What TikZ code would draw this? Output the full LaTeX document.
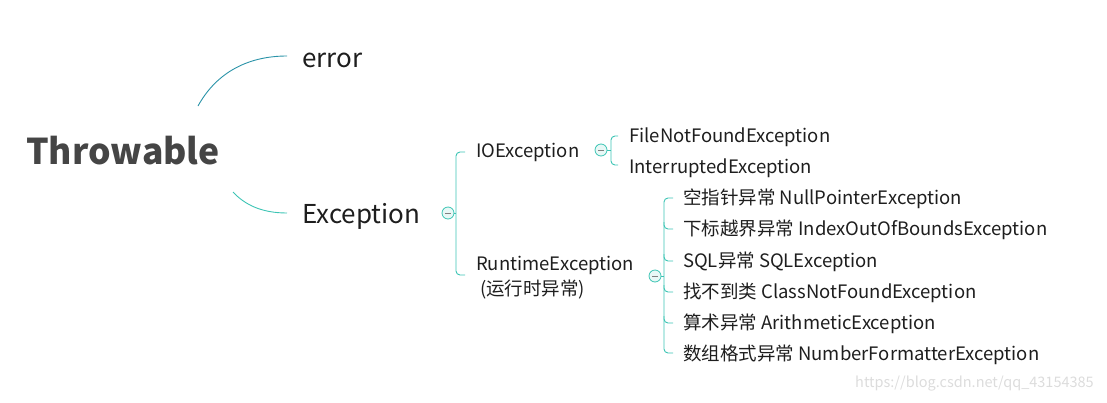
\documentclass[tikz,border=0pt]{standalone}
\usepackage{fontspec}
\setmainfont{Noto Sans CJK SC}
\definecolor{tealA}{HTML}{2A93A8}
\definecolor{tealB}{HTML}{3CC4B4}
\definecolor{txt}{HTML}{1E1E1E}
\definecolor{big}{HTML}{454545}
\definecolor{wm}{HTML}{DCDCDC}
\begin{document}
\begin{tikzpicture}[x=1pt,y=-1pt,
  lbl/.style={anchor=west,inner sep=0,text=txt,font=\fontsize{18.5}{25}\selectfont},
  mid/.style={anchor=west,inner sep=0,text=txt,font=\fontsize{26}{30}\selectfont},
  collapse/.style={circle,draw=tealB,fill=tealB!12,minimum size=12pt,inner sep=0,line width=0.8pt,
    path picture={\draw[gray,line width=0.8pt] ([xshift=-3pt]path picture bounding box.center) -- ([xshift=3pt]path picture bounding box.center);}},
  br/.style={draw=tealB,line width=0.9pt,rounded corners=4pt},
]
\useasboundingbox (0,0) rectangle (1107,402);

% root
\node[anchor=west,inner sep=0,text=big,font=\fontsize{35.5}{40}\selectfont\bfseries] (root) at (26,151) {Throwable};

% level 1
\node[mid] (err) at (302,60) {error};
\node[mid] (exc) at (302,216) {Exception};
\coordinate (errS) at (198,106);
\coordinate (errE) at (287,56);
\coordinate (excS) at (233,192);
\coordinate (excE) at (287,213);
\draw[tealA,line width=0.9pt] (errS) .. controls (215,75) and (245,56) .. (errE);
\draw[tealB,line width=0.9pt] (excS) .. controls (245,205) and (262,213) .. (excE);

% Exception bracket
\node[collapse] (excC) at (448,213) {};
\node[lbl] (io) at (476,152) {IOException};
\node[lbl,align=left] (rt) at (476,278) {RuntimeException\\\hspace*{4pt}(运行时异常)};
\coordinate (b1t) at (456,152);
\coordinate (b1b) at (456,275);
\draw[br] (excC.east) -- (456,213);
\draw[br] (465,152) -- (b1t) -- (b1b) -- (465,275);

% IOException children
\node[collapse] (ioC) at (601,150) {};
\node[lbl] (fnf) at (629,137) {FileNotFoundException};
\node[lbl] (ie) at (629,168) {InterruptedException};
\draw[br] (ioC.east) -- (611,150);
\draw[br] (618,136) -- (611,136) -- (611,165) -- (618,165);

% Runtime children
\node[collapse] (rtC) at (655,276) {};
\draw[br] (rtC.east) -- (664,276);
\node[lbl] (r1) at (683,199) {空指针异常 NullPointerException};
\node[lbl] (r2) at (683,230) {下标越界异常 IndexOutOfBoundsException};
\node[lbl] (r3) at (683,262) {SQL异常 SQLException};
\node[lbl] (r4) at (683,293) {找不到类 ClassNotFoundException};
\node[lbl] (r5) at (683,324) {算术异常 ArithmeticException};
\node[lbl] (r6) at (683,355) {数组格式异常 NumberFormatterException};
\draw[br] (673,198) -- (664,198) -- (664,353) -- (673,353);
\foreach \y in {229,261,292,323} {
  \draw[br] (664,\y-7) |- (673,\y);
}

% watermark
\node[anchor=west,inner sep=0,text=wm,font=\fontsize{14.5}{16}\selectfont] (wmk) at (855,384) {https://blog.csdn.net/qq\_43154385};
\end{tikzpicture}
\end{document}
